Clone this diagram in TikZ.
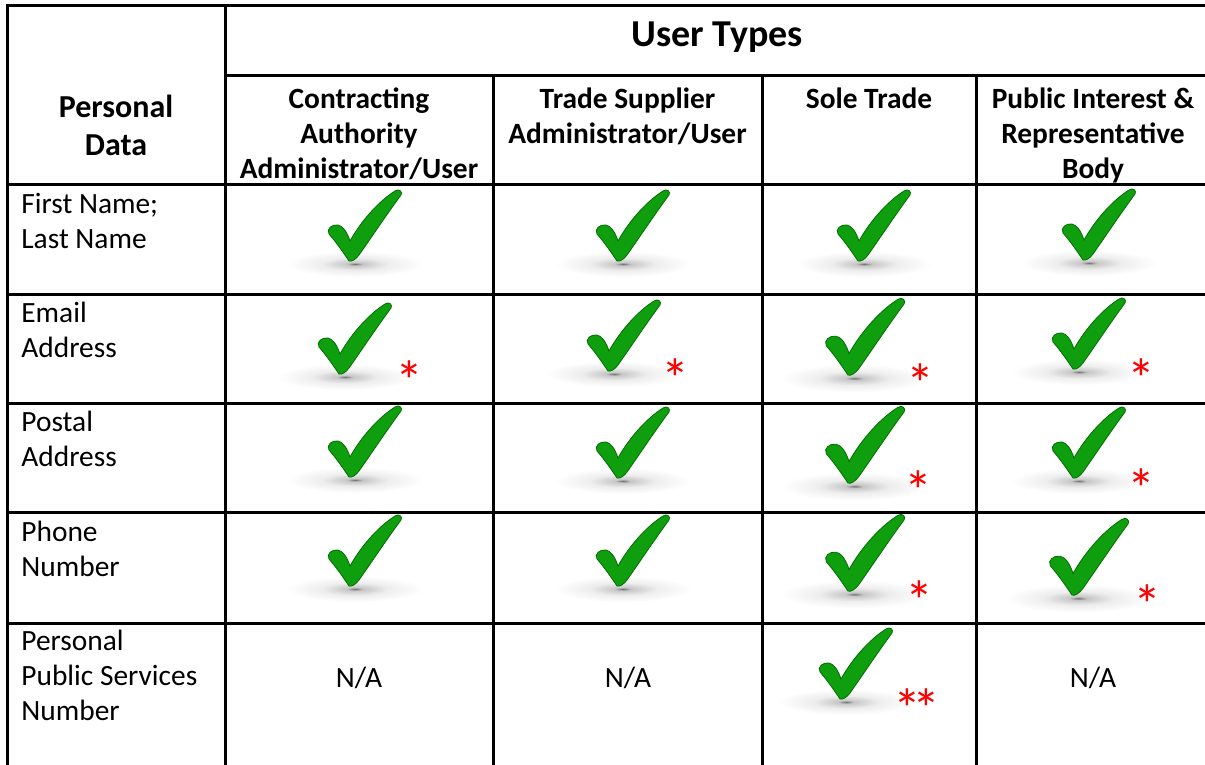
\documentclass[tikz,border=0pt]{standalone}
\usepackage{fontspec}
\setmainfont{Carlito}
\definecolor{tickgreen}{RGB}{14,158,14}
\definecolor{tickdark}{RGB}{0,110,0}
\definecolor{starred}{RGB}{255,0,0}
\pgfdeclareradialshading{tickshadow}{\pgfpoint{0bp}{0bp}}{color(0bp)=(black!55); color(3bp)=(black!22); color(12bp)=(black!7); color(25bp)=(white); color(50bp)=(white)}
\begin{document}
\begin{tikzpicture}[x=0.5pt,y=-0.5pt,
    rule/.style={line width=1.5pt},
    toptitle/.style={font=\bfseries\fontsize{19}{23}\selectfont,inner sep=0pt,anchor=base},
    hdr/.style={font=\bfseries\fontsize{14.7}{17.5}\selectfont,align=center,inner sep=0pt,anchor=north},
    rowlabel/.style={font=\fontsize{14.7}{17.5}\selectfont,align=left,inner sep=0pt,anchor=north west},
    na/.style={font=\fontsize{14.7}{17.5}\selectfont,inner sep=0pt,anchor=base},
    starmark/.style={font=\fontsize{28}{28}\selectfont,text=starred,inner sep=0pt,anchor=base},
    greentick/.pic={
        \shade[shading=tickshadow] (6,4) ellipse [x radius=68,y radius=13];
        \fill[tickgreen,draw=tickdark,line width=0.4pt] (0,1) .. controls (-6,-8) and (-13,-18) .. (-20,-26)
            .. controls (-23,-31) and (-17,-36) .. (-11,-35)
            .. controls (-6,-34) and (-2,-28) .. (1,-19)
            .. controls (12,-39) and (30,-59) .. (46,-69)
            .. controls (50,-72) and (54,-68) .. (52,-65)
            .. controls (38,-46) and (22,-22) .. (10,-5)
            .. controls (7,-1) and (3,2) .. (0,1) -- cycle;
    }]
    \useasboundingbox (0,0) rectangle (1205,765);
    \draw[rule] (1205,6) -- (7,6) -- (7,765);
    \draw[rule] (225,6) -- (225,765);
    \draw[rule] (225,76) -- (1205,76);
    \foreach \y in {184,294,403,512,623} \draw[rule] (7,\y) -- (1205,\y);
    \foreach \x in {493,762,976} \draw[rule] (\x,76) -- (\x,765);

    \node[toptitle] (usertypes) at (717,47) {User Types};
    \node[hdr,font=\bfseries\fontsize{16}{19}\selectfont] (persdata) at (116,90.5) {\strut Personal\\Data};
    \node[hdr] (hcontract) at (359,83.5) {\strut Contracting\\Authority\\Administrator/User};
    \node[hdr] (hsupplier) at (627.5,83.5) {\strut Trade Supplier\\Administrator/User};
    \node[hdr] (hsole) at (869,83.5) {\strut Sole Trade};
    \node[hdr] (hpublic) at (1093,83.5) {\strut Public Interest \&\\Representative\\Body};

    \node[rowlabel] (rfirst) at (21,188.5) {\strut First Name;\\Last Name};
    \node[rowlabel] (remail) at (21,297.5) {\strut Email\\Address};
    \node[rowlabel] (rpostal) at (21,406.5) {\strut Postal\\Address};
    \node[rowlabel] (rphone) at (21,516.5) {\strut Phone\\Number};
    \node[rowlabel] (rppsn) at (21,625.5) {\strut Personal\\Public Services\\Number};

    \pic (t11) at (349,260) {greentick};
    \pic (t12) at (617,260) {greentick};
    \pic (t13) at (858,260) {greentick};
    \pic (t14) at (1083,259) {greentick};
    \pic (t21) at (339,373) {greentick};
    \pic (t22) at (608,370) {greentick};
    \pic[scale=1.08] (t23) at (848,374) {greentick};
    \pic (t24) at (1073,368) {greentick};
    \pic (t31) at (349,476) {greentick};
    \pic (t32) at (617,477) {greentick};
    \pic[scale=1.08] (t33) at (848,482) {greentick};
    \pic (t34) at (1073,477) {greentick};
    \pic (t41) at (349,585) {greentick};
    \pic (t42) at (617,585) {greentick};
    \pic[scale=1.08] (t43) at (848,590) {greentick};
    \pic[scale=1.08] (t44) at (1072,594) {greentick};
    \pic (t53) at (840,698) {greentick};

    \node[starmark] (s21) at (409,400) {*};
    \node[starmark] (s22) at (675,398) {*};
    \node[starmark] (s23) at (920,403) {*};
    \node[starmark] (s24) at (1141,398) {*};
    \node[starmark] (s33) at (918,510) {*};
    \node[starmark] (s34) at (1141,508) {*};
    \node[starmark] (s43) at (919,620) {*};
    \node[starmark] (s44) at (1147,624) {*};
    \node[starmark] (s53a) at (907,728) {*};
    \node[starmark] (s53b) at (926,728) {*};

    \node[na] (na51) at (359,687) {N/A};
    \node[na] (na52) at (628,687) {N/A};
    \node[na] (na54) at (1093,687) {N/A};
\end{tikzpicture}
\end{document}
